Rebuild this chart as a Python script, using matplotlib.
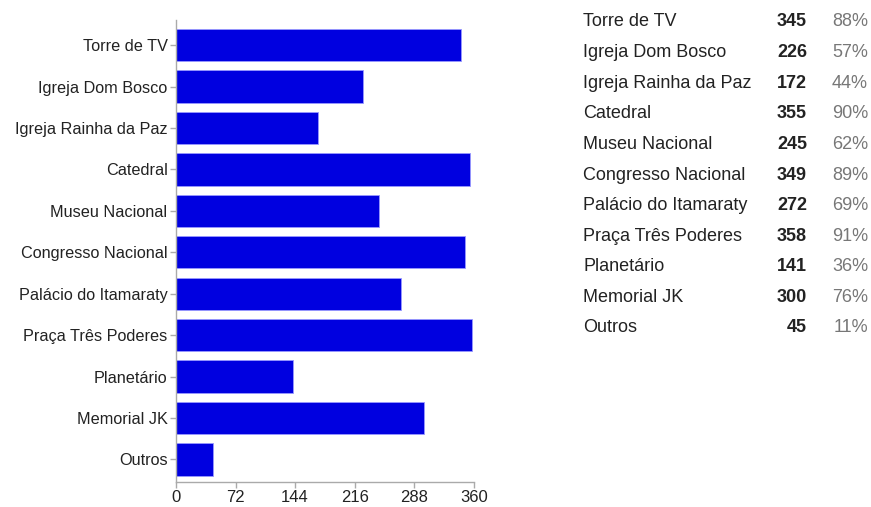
import matplotlib.pyplot as plt
import numpy as np

plt.rcParams["font.family"] = ["Liberation Sans", "DejaVu Sans"]

places = [
    "Torre de TV",
    "Igreja Dom Bosco",
    "Igreja Rainha da Paz",
    "Catedral",
    "Museu Nacional",
    "Congresso Nacional",
    "Palácio do Itamaraty",
    "Praça Três Poderes",
    "Planetário",
    "Memorial JK",
    "Outros",
]
counts = [345, 226, 172, 355, 245, 349, 272, 358, 141, 300, 45]
percents = [88, 57, 44, 90, 62, 89, 69, 91, 36, 76, 11]
x_ticks = [0, 72, 144, 216, 288, 360]

bar_color = "#0000e0"
axis_color = "#aaaaaa"

fig = plt.figure(figsize=(8.71, 5.07), dpi=100)
ax = fig.add_axes([0.202, 0.049, 0.342, 0.911])

y = np.arange(len(places))
ax.barh(y, counts, height=0.78, color=bar_color, edgecolor="#9999ff", linewidth=0.6)
ax.set_yticks(y)
ax.set_yticklabels(places, fontsize=11.7, color="#222222")
ax.set_ylim(len(places) - 0.45, -0.6)
ax.set_xlim(0, 360)
ax.set_xticks(x_ticks)
ax.set_xticklabels([str(t) for t in x_ticks], fontsize=12, color="#222222")

for side in ["top", "right"]:
    ax.spines[side].set_visible(False)
for side in ["left", "bottom"]:
    ax.spines[side].set_color(axis_color)
    ax.spines[side].set_linewidth(1)
ax.tick_params(axis="both", color=axis_color, length=4, width=1, pad=2)

# summary table to the right of the bars
row0 = 485 / 507
row_step = 30.6 / 507
for i, (name, n, p) in enumerate(zip(places, counts, percents)):
    ty = row0 - i * row_step
    fig.text(583 / 871, ty, name, fontsize=13, color="#222222", va="center", ha="left")
    fig.text(807 / 871, ty, str(n), fontsize=13, color="#222222", va="center",
             ha="right", fontweight="bold")
    fig.text(868 / 871, ty, f"{p}%", fontsize=13, color="#777777", va="center", ha="right")

fig.savefig("out.png", dpi=100)
